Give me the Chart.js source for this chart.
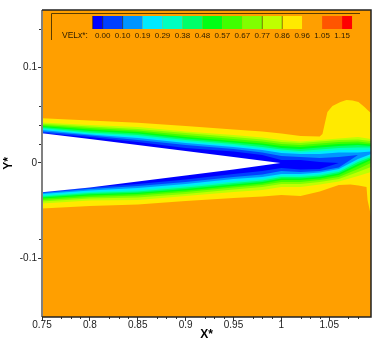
<!DOCTYPE html>
<html>
<head>
<meta charset="utf-8">
<style>
  html, body { margin: 0; padding: 0; background: #fff; }
  #wrap { width: 382px; height: 340px; }
</style>
<script src="https://cdn.jsdelivr.net/npm/chart.js@4/dist/chart.umd.min.js"></script>
</head>
<body>
<div id="wrap"><canvas id="velChart"></canvas></div>
<script>
// stations along X* shared by the contour lines
var stations = [0.75, 0.8, 0.85, 0.9, 0.95, 0.98, 1.0, 1.02, 1.04, 1.06, 1.08, 1.0936];

// contour lines above the wake, outermost first (VELx* band lower limit goes down)
var upperLines = [
    [.0424, .0398, .0377, .033, .0293, .0267, .0241, .0225, .0241, .0257, .0272, .0251],
    [.041, .0382, .0356, .0314, .0272, .0246, .022, .0209, .0225, .0241, .0246, .023],
    [.0398, .0366, .034, .0293, .0251, .0225, .0199, .0188, .0204, .022, .0225, .0209],
    [.0387, .0351, .0325, .0272, .023, .0204, .0178, .0168, .0183, .0199, .0204, .0194],
    [.0377, .0335, .0309, .0257, .0215, .0188, .0157, .0147, .0162, .0178, .0188, .0178],
    [.0366, .0319, .0293, .0241, .0199, .0168, .0141, .0126, .0141, .0157, .0162, .0162],
    [.0356, .0309, .0277, .0225, .0183, .0152, .0126, .011, .012, .0136, .0136, .0141],
    [.0346, .0298, .0262, .0209, .0168, .0136, .0105, .0094, .0094, .011, .011, .012],
    [.033, .0288, .0241, .0188, .0147, .011, .0073, .0063, .0052, .0063, .0084, .0115],
    [.0314, .0272, .022, .0157, .012, .0084, .0031, .0031, .001, 0, .0084, .0115]
];

// same contour lines below the wake
var lowerLines = [
    [-.0424, -.0393, -.0387, -.0346, -.0304, -.0283, -.0251, -.0251, -.0225, -.0194, -.0136, -.0094],
    [-.0403, -.0372, -.0361, -.0325, -.0277, -.0251, -.022, -.022, -.0199, -.0168, -.0094, -.0042],
    [-.0387, -.0356, -.034, -.0304, -.0257, -.023, -.0199, -.0199, -.0178, -.0147, -.0063, 0],
    [-.0372, -.034, -.0325, -.0288, -.0241, -.0215, -.0178, -.0178, -.0162, -.0126, -.0031, .0031],
    [-.0361, -.0327, -.0312, -.0272, -.0225, -.0199, -.0162, -.0162, -.0147, -.011, -.001, .0047],
    [-.0351, -.0314, -.0298, -.0257, -.0209, -.0183, -.0147, -.0147, -.0131, -.0094, .001, .0063],
    [-.034, -.0304, -.0283, -.0241, -.0194, -.0168, -.0131, -.0131, -.0115, -.0079, .0026, .0079],
    [-.0325, -.0288, -.0262, -.022, -.0168, -.0147, -.0115, -.0115, -.0099, -.0063, .0042, .0094],
    [-.0314, -.0272, -.0241, -.0199, -.0147, -.012, -.0084, -.0094, -.0084, -.0047, .0084, .0115],
    [-.0304, -.0257, -.022, -.0173, -.0115, -.0084, -.0052, -.0068, -.0063, 0, .0084, .0115]
];
var lineColors = ['#bfff00', '#80ff00', '#40ff00', '#00ff15', '#00ff6a', '#00ffc0', '#00eaff', '#0095ff', '#0040ff', '#0000ff'];

// yellow band has the bump at top right and the strip at bottom right
var yellowTopX = [0.75, 0.8, 0.85, 0.9, 0.95, 0.98, 1.0, 1.02, 1.04, 1.0429, 1.045, 1.0481, 1.0533, 1.0617, 1.068, 1.0743, 1.0805, 1.0868, 1.09, 1.0936];
var yellowTopY = [.0468, .0445, .0422, .0387, .0351, .033, .0309, .0283, .0277, .0304, .0398, .0534, .0597, .0639, .066, .0654, .0639, .0586, .0555, .0524];
var yellowBottomX = [0.75, 0.8, 0.85, 0.9, 0.95, 0.98, 1.0, 1.02, 1.04, 1.06, 1.0722, 1.0805, 1.0889, 1.09, 1.0936];
var yellowBottomY = [-.0476, -.045, -.0435, -.0398, -.0366, -.0351, -.0335, -.0346, -.0298, -.023, -.0225, -.0236, -.0251, -.0387, -.0555];

// the white wedge
var bodyX = [0.75, 0.8, 0.85, 0.9, 0.95, 0.999];
var bodyTop = [.0311, .0251, .0188, .0126, .0063, 0];
var bodyBottom = [-.0307, -.0257, -.0194, -.0131, -.0068, 0];

var xTicks = [0.75, 0.8, 0.85, 0.9, 0.95, 1, 1.05];
var yTicks = [-0.1, 0, 0.1];
var xMinorTicks = [0.77, 0.78, 0.79, 0.82, 0.83, 0.84, 0.87, 0.88, 0.89, 0.92, 0.93, 0.94, 0.97, 0.98, 0.99, 1.02, 1.03, 1.04, 1.07, 1.08];
var yMinorTicks = [-0.08, 0.02, 0.04, 0.06, 0.14];

var legendLabels = ['0.00', '0.10', '0.19', '0.29', '0.38', '0.48', '0.57', '0.67', '0.77', '0.86', '0.96', '1.05', '1.15'];
var legendColors = ['#0000ff', '#0040ff', '#0095ff', '#00eaff', '#00ffc0', '#00ff6a', '#00ff15', '#40ff00', '#80ff00', '#bfff00', '#ffea00', '#ff9f00', '#ff5500', '#ff0000'];
var legendDarkEdges = [1, 2, 9, 10];

function polygon(topX, topY, bottomX, bottomY) {
    var pts = [];
    for (var i = 0; i < topX.length; i++) pts.push({x: topX[i], y: topY[i]});
    for (var j = bottomX.length - 1; j >= 0; j--) pts.push({x: bottomX[j], y: bottomY[j]});
    return pts;
}

function band(points, color) {
    return {
        data: points,
        showLine: true,
        fill: 'shape',
        backgroundColor: color,
        borderWidth: 0,
        pointRadius: 0,
        tension: 0
    };
}

// first dataset ends up on top, so body first and yellow last
var datasets = [band(polygon(bodyX, bodyTop, bodyX, bodyBottom), '#ffffff')];
for (var k = upperLines.length - 1; k >= 0; k--) {
    datasets.push(band(polygon(stations, upperLines[k], stations, lowerLines[k]), lineColors[k]));
}
datasets.push(band(polygon(yellowTopX, yellowTopY, yellowBottomX, yellowBottomY), '#ffea00'));

var plotBackground = {
    id: 'plotBackground',
    beforeDraw: function(chart) {
        var a = chart.chartArea, c = chart.ctx;
        c.save();
        c.fillStyle = '#ff9f00';
        c.fillRect(a.left, a.top, a.width, a.height);
        c.restore();
    }
};

var frameAndLegend = {
    id: 'frameAndLegend',
    afterDraw: function(chart) {
        var a = chart.chartArea, c = chart.ctx;
        var xs = chart.scales.x, ys = chart.scales.y;
        c.save();

        // minor ticks
        c.strokeStyle = '#333';
        c.lineWidth = 1;
        c.beginPath();
        xMinorTicks.forEach(function(v) {
            var p = Math.round(xs.getPixelForValue(v)) + 0.5;
            c.moveTo(p, a.bottom); c.lineTo(p, a.bottom + 2);
        });
        yMinorTicks.forEach(function(v) {
            var p = Math.round(ys.getPixelForValue(v)) + 0.5;
            c.moveTo(a.left - 3, p); c.lineTo(a.left, p);
        });
        c.stroke();

        // frame
        c.strokeStyle = '#808080';
        c.lineWidth = 2;
        c.beginPath(); c.moveTo(a.left, a.top); c.lineTo(a.left, a.bottom); c.stroke();
        c.strokeStyle = '#222';
        c.lineWidth = 1.5;
        c.beginPath();
        c.moveTo(a.left, a.top); c.lineTo(a.right, a.top); c.lineTo(a.right, a.bottom); c.lineTo(a.left, a.bottom);
        c.stroke();

        // contour legend
        c.strokeStyle = '#5a3c00';
        c.lineWidth = 1;
        c.beginPath();
        c.moveTo(51.5, 40); c.lineTo(51.5, 13.5); c.lineTo(360, 13.5);
        c.stroke();

        var left = 92.7, step = 19.95, x = left;
        legendColors.forEach(function(col, i) {
            var w = (i === 0 || i === legendColors.length - 1) ? step / 2 : step;
            c.fillStyle = col;
            c.fillRect(x, 16, w, 13);
            x += w;
        });
        c.fillStyle = 'rgba(0,0,0,0.45)';
        c.fillRect(left - 0.5, 16, 1, 13);
        legendDarkEdges.forEach(function(e) {
            c.fillRect(left + step / 2 + step * (e - 1) - 0.5, 16, 1, 13);
        });

        c.fillStyle = '#2b1c00';
        c.font = '8px "Liberation Sans", Arial, sans-serif';
        c.textBaseline = 'middle';
        c.textAlign = 'center';
        legendLabels.forEach(function(t, i) {
            c.fillText(t, left + step / 2 + step * i, 36);
        });
        c.textAlign = 'left';
        c.font = '8.5px "Liberation Sans", Arial, sans-serif';
        c.fillText('VELx*:', 62, 36);
        c.restore();
    }
};

var ctx = document.getElementById('velChart').getContext('2d');
var velChart = new Chart(ctx, {
    type: 'scatter',
    data: {datasets: datasets},
    options: {
        responsive: true,
        maintainAspectRatio: false,
        animation: false,
        layout: {padding: {top: 10, right: 11}},
        plugins: {legend: {display: false}, tooltip: {enabled: false}},
        scales: {
            x: {
                type: 'linear',
                min: 0.75,
                max: 1.0936,
                afterFit: function(scale) { scale.height = 23; },
                afterBuildTicks: function(scale) {
                    scale.ticks = xTicks.map(function(v) { return {value: v}; });
                },
                grid: {drawOnChartArea: false, tickLength: 4, tickColor: '#333'},
                border: {display: false},
                ticks: {
                    autoSkip: false,
                    maxRotation: 0,
                    padding: -2,
                    color: '#222',
                    font: {family: '"Liberation Sans", Arial, sans-serif', size: 10},
                    callback: function(v) { return String(v); }
                },
                title: {
                    display: true,
                    text: 'X*',
                    color: '#000',
                    padding: {top: 0, bottom: -2},
                    font: {family: '"Liberation Sans", Arial, sans-serif', size: 12, weight: 'bold'}
                }
            },
            y: {
                type: 'linear',
                min: -0.1613,
                max: 0.1602,
                afterFit: function(scale) { scale.width = 42; },
                afterBuildTicks: function(scale) {
                    scale.ticks = yTicks.map(function(v) { return {value: v}; });
                },
                grid: {drawOnChartArea: false, tickLength: 4, tickColor: '#333'},
                border: {display: false},
                ticks: {
                    autoSkip: false,
                    padding: 1,
                    color: '#222',
                    font: {family: '"Liberation Sans", Arial, sans-serif', size: 10},
                    callback: function(v) { return String(v); }
                },
                title: {
                    display: true,
                    text: 'Y*',
                    color: '#000',
                    padding: {top: 1, bottom: 0},
                    font: {family: '"Liberation Sans", Arial, sans-serif', size: 12, weight: 'bold'}
                }
            }
        }
    },
    plugins: [plotBackground, frameAndLegend]
});
</script>
</body>
</html>
